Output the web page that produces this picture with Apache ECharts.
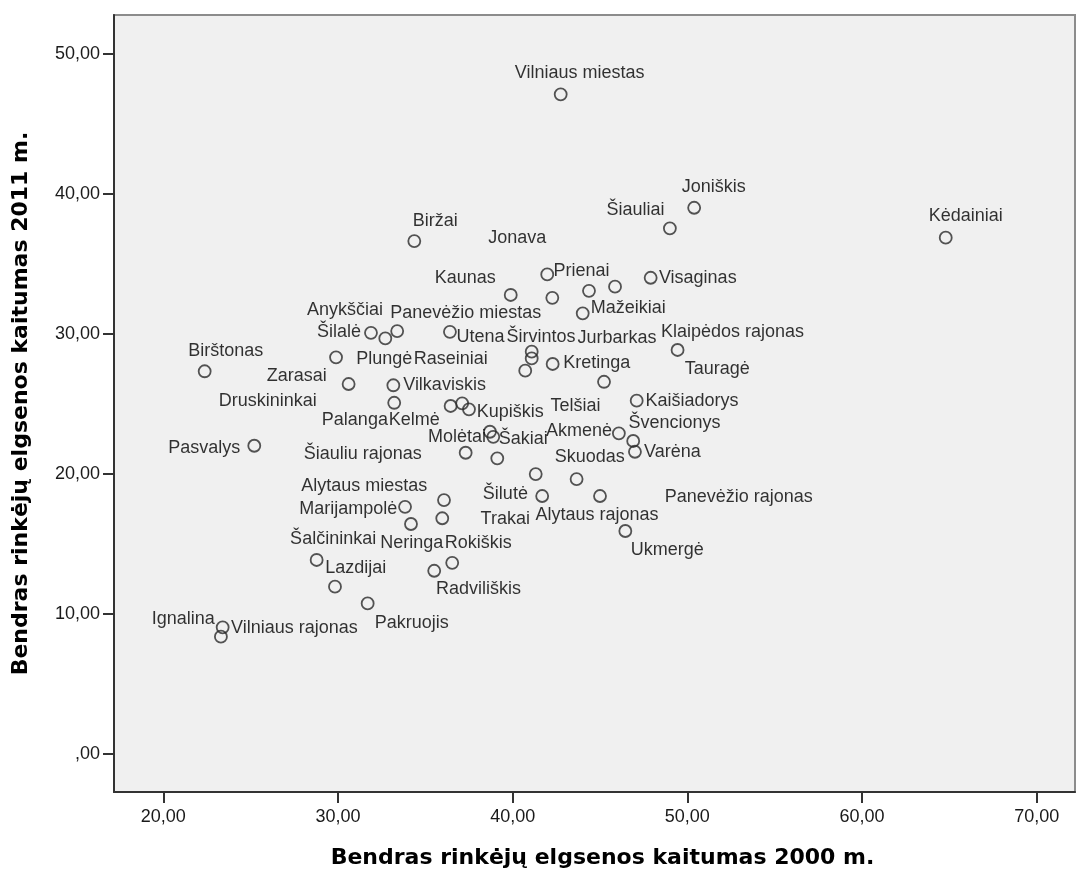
<!DOCTYPE html>
<html>
<head>
<meta charset="utf-8">
<script src="https://cdn.jsdelivr.net/npm/echarts@6/dist/echarts.min.js"></script>
<style>
html,body{margin:0;padding:0;background:#fff;}
#chart{width:1077px;height:869px;}
</style>
</head>
<body>
<div id="chart"></div>
<script>
// ---- data ----
const names = ["Vilniaus miestas","Joniškis","Šiauliai","Kėdainiai","Biržai","Prienai","Visaginas","Tauragė","","Kaunas",
"Jonava","Mažeikiai","Šilalė","Anykščiai","Panevėžio miestas","Utena","Klaipėdos rajonas","Plungė","Širvintos","Jurbarkas",
"Raseiniai","Kretinga","Birštonas","Zarasai","Vilkaviskis","Telšiai","Kaišiadorys","Druskininkai","Kelmė","Palanga",
"Kupiškis","Akmenė","Švencionys","Varėna","Pasvalys","Šiauliu rajonas","Molėtai","Šakiai","","Panevėžio rajonas",
"Skuodas","Šilutė","Alytaus rajonas","Marijampolė","Alytaus miestas","Trakai","Neringa","Ukmergė","Šalčininkai","Lazdijai",
"Radviliškis","Rokiškis","Pakruojis","Ignalina","Vilniaus rajonas"];
const kaitumas2000 = [42.75,50.39,49.00,64.79,34.37,41.98,47.90,45.86,44.37,39.89,
42.27,44.01,31.89,32.71,33.39,36.41,49.44,29.89,41.09,41.09,
40.72,42.29,22.37,30.61,33.17,45.23,47.10,33.22,36.45,37.11,
37.50,46.08,46.90,47.00,25.21,37.31,38.70,38.89,39.12,41.32,
43.66,41.69,45.00,33.84,36.07,35.97,34.18,46.45,28.78,29.83,
35.51,36.54,31.70,23.40,23.30];
const kaitumas2011 = [47.12,39.02,37.55,36.88,36.64,34.26,34.02,33.38,33.09,32.79,
32.59,31.48,30.09,29.69,30.21,30.16,28.86,28.34,28.74,28.26,
27.38,27.86,27.34,26.43,26.34,26.59,25.24,25.09,24.86,25.05,
24.62,22.91,22.36,21.59,22.02,21.52,23.02,22.66,21.12,20.00,
19.64,18.43,18.43,17.66,18.14,16.84,16.43,15.93,13.86,11.95,
13.09,13.66,10.76,9.05,8.38];
const xTicks = [20,30,40,50,60,70];
const yTicks = [0,10,20,30,40,50];
const xTitle = "Bendras rinkėjų elgsenos kaitumas 2000 m.";
const yTitle = "Bendras rinkėjų elgsenos kaitumas 2011 m.";

// ---- label placement (pixels, relative to each point) ----
const labelOffsets = [[19,-21],[19.5,-20.4],[-34.3,-18.3],[20.1,-22],[21,-20.3],[34.2,-3.3],[47.1,0],[102.3,82.3],[0,0],[-45.5,-17.3],
[-35.1,-60],[45.5,-5.6],[-32,-1],[-40.3,-28.3],[68.5,-17.7],[30.5,5],[55,-18.3],[48.2,1.7],[9.3,-15],[85.3,-20.8],
[-74.5,-11.7],[44,-0.7],[21,-20.6],[-51.9,-8.3],[51.2,-0.3],[-28.5,24],[55.3,0],[-126.5,-2],[-36.5,14],[-107.3,16.7],
[41.3,3],[-39.8,-2.6],[41.4,-17.7],[37.5,0],[-50,2.6],[-103,1.3],[-33,5],[30,2.6],[0,0],[203,22.7],
[13.1,-21.7],[-36.8,-1.7],[-3,19],[-56.8,2.3],[-79.8,-14],[63,1],[0.8,19.3],[41.9,19],[16.5,-20.7],[20.8,-19],
[44.2,18.3],[26,-19.4],[44,19.4],[-39.4,-8],[73.5,-8.4]];

const fmt = v => (v === 0 ? ',00' : v.toFixed(2).replace('.', ','));
const FONT = "'Liberation Sans', Arial, sans-serif";

const points = names.map((n, i) => ({
  name: n,
  value: [kaitumas2000[i], kaitumas2011[i]],
  label: { show: n !== '', offset: labelOffsets[i] }
}));

const chart = echarts.init(document.getElementById('chart'), null, {renderer: 'canvas'});
chart.setOption({
  animation: false,
  backgroundColor: '#ffffff',
  grid: {
    left: 114, top: 15, right: 2, bottom: 77,
    containLabel: false, outerBoundsMode: 'none',
    show: true, backgroundColor: '#f0f0f0', borderColor: '#8c8c8c', borderWidth: 2
  },
  xAxis: {
    type: 'value', min: 17.18, max: 72.19,
    name: xTitle, nameLocation: 'middle', nameGap: 55,
    nameTextStyle: { fontFamily: "'DejaVu Sans', sans-serif", fontWeight: 'bold', fontSize: 22, color: '#000', padding: [0,0,0,16] },
    axisLine: { show: true, onZero: false, lineStyle: { color: '#333', width: 2 } },
    axisTick: { show: true, customValues: xTicks, length: 11, lineStyle: { color: '#333', width: 2 } },
    axisLabel: { customValues: xTicks, formatter: fmt, margin: 16, fontFamily: FONT, fontSize: 18, color: '#1a1a1a' },
    splitLine: { show: false }
  },
  yAxis: {
    type: 'value', min: -2.714, max: 52.79,
    name: yTitle, nameLocation: 'middle', nameGap: 82,
    nameTextStyle: { fontFamily: "'DejaVu Sans', sans-serif", fontWeight: 'bold', fontSize: 22, color: '#000' },
    axisLine: { show: true, onZero: false, lineStyle: { color: '#333', width: 2 } },
    axisTick: { show: true, customValues: yTicks, length: 11, lineStyle: { color: '#333', width: 2 } },
    axisLabel: { customValues: yTicks, formatter: fmt, margin: 14, fontFamily: FONT, fontSize: 18, color: '#1a1a1a' },
    splitLine: { show: false }
  },
  series: [{
    type: 'scatter',
    symbol: 'circle',
    symbolSize: 12,
    itemStyle: { color: 'rgba(0,0,0,0)', borderColor: '#2a2a2a', borderWidth: 1.8 },
    label: {
      show: true, position: 'inside', formatter: p => p.name,
      fontFamily: FONT, fontSize: 18, color: '#000',
      textBorderWidth: 0, textShadowBlur: 0,
      align: 'center', verticalAlign: 'middle'
    },
    emphasis: { disabled: true },
    data: points
  }]
});
</script>
</body>
</html>
